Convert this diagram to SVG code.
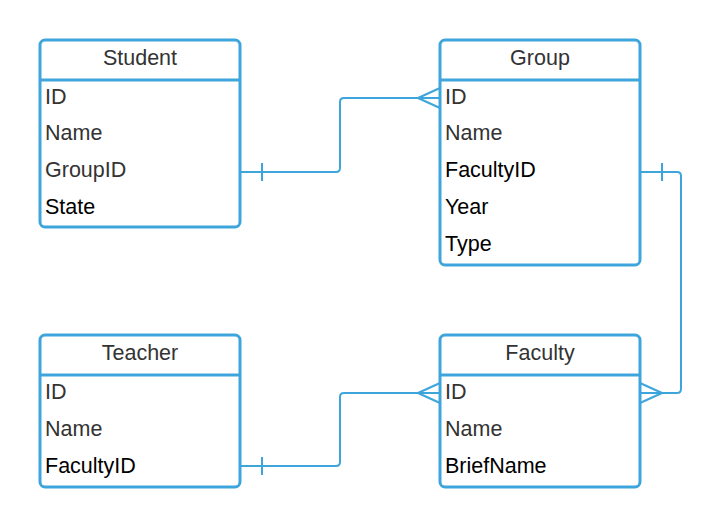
<svg xmlns="http://www.w3.org/2000/svg" width="722" height="526" viewBox="0 0 722 526">
<style>
.box{fill:#fff;stroke:#3ea5dc;stroke-width:3}
.div{stroke:#3ea5dc;stroke-width:3}
.hd{font-family:"Liberation Sans",Arial,sans-serif;font-size:21.5px;fill:#333;text-anchor:middle}
.f{font-family:"Liberation Sans",Arial,sans-serif;font-size:21.5px;fill:#333}
.k{fill:#000}
.c{fill:none;stroke:#3ea5dc;stroke-width:2}
</style>
<rect width="722" height="526" fill="#fff"/>
<g id="connectors">
<path class="c" d="M240,172 H336 Q340,172 340,168 V102 Q340,98 344,98 H440"/>
<path class="c" d="M262,163 V181 M418,98 L440,88 M418,98 L440,108"/>
<path class="c" d="M640,172 H677 Q681,172 681,176 V389 Q681,393 677,393 H640"/>
<path class="c" d="M662,163 V181 M662,393 L640,383 M662,393 L640,403"/>
<path class="c" d="M240,466 H336 Q340,466 340,462 V397 Q340,393 344,393 H440"/>
<path class="c" d="M262,457 V475 M418,393 L440,383 M418,393 L440,403"/>
</g>
<g id="student">
<rect class="box" x="40" y="40" width="200" height="187" rx="5"/>
<line class="div" x1="40" y1="80" x2="240" y2="80"/>
<text class="hd" x="140" y="64.5">Student</text>
<text class="f" x="45" y="103.5">ID</text>
<text class="f" x="45" y="140">Name</text>
<text class="f" x="45" y="177">GroupID</text>
<text class="f k" x="45" y="213.5">State</text>
</g>
<g id="group">
<rect class="box" x="440" y="40" width="200" height="225" rx="5"/>
<line class="div" x1="440" y1="80" x2="640" y2="80"/>
<text class="hd" x="540" y="64.5">Group</text>
<text class="f" x="445" y="103.5">ID</text>
<text class="f" x="445" y="140">Name</text>
<text class="f k" x="445" y="177">FacultyID</text>
<text class="f k" x="445" y="213.5">Year</text>
<text class="f k" x="445" y="250.5">Type</text>
</g>
<g id="teacher">
<rect class="box" x="40" y="335" width="200" height="152" rx="5"/>
<line class="div" x1="40" y1="375" x2="240" y2="375"/>
<text class="hd" x="140" y="359.5">Teacher</text>
<text class="f" x="45" y="398.5">ID</text>
<text class="f" x="45" y="435.5">Name</text>
<text class="f k" x="45" y="472.5">FacultyID</text>
</g>
<g id="faculty">
<rect class="box" x="440" y="335" width="200" height="152" rx="5"/>
<line class="div" x1="440" y1="375" x2="640" y2="375"/>
<text class="hd" x="540" y="359.5">Faculty</text>
<text class="f" x="445" y="398.5">ID</text>
<text class="f" x="445" y="435.5">Name</text>
<text class="f k" x="445" y="472.5">BriefName</text>
</g>
</svg>
